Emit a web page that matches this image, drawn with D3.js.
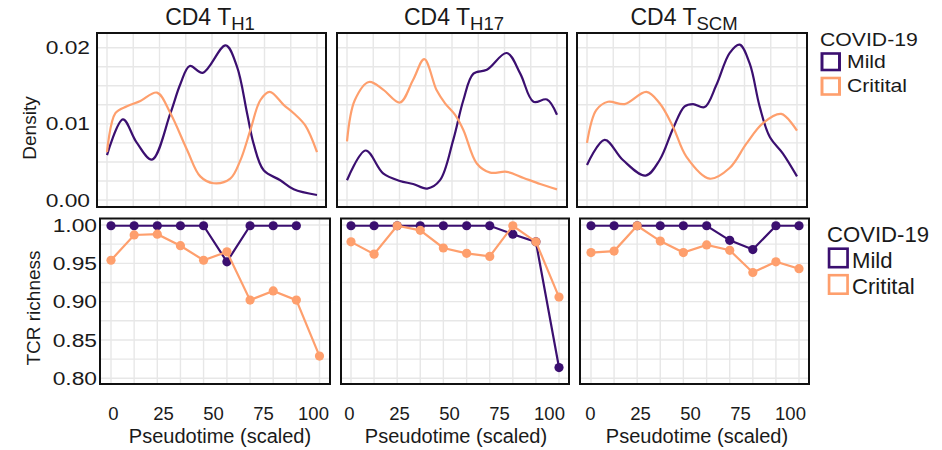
<!DOCTYPE html>
<html><head><meta charset="utf-8">
<script src="https://cdn.jsdelivr.net/npm/d3@7"></script>
<style>
body{margin:0;background:#fff;}
svg{display:block;font-family:"Liberation Sans",Arial,Helvetica,sans-serif;}
</style>
</head><body>
<svg id="chart" width="942" height="450"></svg>
<script>
// ---------------- DATA ----------------
const subsets = ["H1", "H17", "SCM"];
const groups = ["Mild", "Critital"];
const groupColors = ["#3B0F70", "#FE9F6D"];

// Density curves (pseudotime, density)
const th1MildX  = [0, 7.6, 14, 21.4, 30.2, 34.9, 39.4, 45.6, 56.5, 61.9, 66.7, 69.8, 74.6, 82.5, 88.9, 100];
const th1MildY  = [0.0059, 0.0106, 0.0076, 0.0053, 0.0114, 0.0152, 0.0176, 0.0167, 0.0203, 0.0175, 0.0114, 0.0074, 0.0039, 0.0026, 0.0014, 0.00066];
const th1CritX  = [0, 4, 9.5, 15.9, 23.8, 30.2, 38.1, 44.4, 50.8, 58.7, 63.5, 68.3, 73, 77.5, 84.1, 88.9, 94.4, 100];
const th1CritY  = [0.0063, 0.0114, 0.0123, 0.0130, 0.0141, 0.0114, 0.0066, 0.0031, 0.0022, 0.0028, 0.0052, 0.0092, 0.0131, 0.0142, 0.0125, 0.0114, 0.0098, 0.0063];

const th17MildX = [0, 8.9, 17.2, 25.2, 31.5, 38.2, 44.3, 50.6, 55.4, 60.2, 66.6, 76.1, 82.5, 88.8, 95.2, 100];
const th17MildY = [0.0026, 0.0065, 0.0035, 0.0025, 0.0021, 0.0015, 0.0026, 0.0079, 0.0131, 0.0166, 0.0171, 0.0193, 0.0166, 0.0129, 0.0132, 0.0112];
const th17CritX = [0, 3.7, 10.5, 17.2, 25.2, 31.5, 36.8, 42.7, 46.7, 51.4, 55.4, 61.8, 68.2, 76.1, 84.1, 92, 100];
const th17CritY = [0.0077, 0.0131, 0.0155, 0.0145, 0.0128, 0.0158, 0.0185, 0.0144, 0.0127, 0.0112, 0.0092, 0.0048, 0.0036, 0.0037, 0.0029, 0.0021, 0.0014];

const tscmMildX = [0, 8.4, 17.1, 27.9, 34.6, 41, 46.5, 50.5, 56, 61.6, 67.9, 72.7, 77.5, 82.2, 87, 93.3, 100];
const tscmMildY = [0.0046, 0.0079, 0.00525, 0.0032, 0.00525, 0.0094, 0.0123, 0.0126, 0.0122, 0.0151, 0.0193, 0.0204, 0.0179, 0.0123, 0.0083, 0.0061, 0.0031];
const tscmCritX = [0, 4.4, 10, 17.9, 28.3, 34.6, 41, 47.3, 58.4, 67.9, 75.9, 83.8, 92.5, 100];
const tscmCritY = [0.0075, 0.0118, 0.0129, 0.0126, 0.0142, 0.0127, 0.0096, 0.0057, 0.0028, 0.0042, 0.0074, 0.0101, 0.0113, 0.0091];

// TCR richness per pseudotime bin
const pseudotimeBins = [0, 11.1, 22.2, 33.3, 44.4, 55.6, 66.7, 77.8, 88.9, 100];
const th1MildRich  = [0.999, 0.999, 0.999, 0.999, 0.999, 0.952, 0.999, 0.999, 0.999];
const th1CritRich  = [0.954, 0.987, 0.988, 0.973, 0.954, 0.965, 0.902, 0.914, 0.902, 0.829];
const th17MildRich = [0.999, 0.999, 0.999, 0.999, 0.999, 0.999, 0.999, 0.988, 0.978, 0.814];
const th17CritRich = [0.978, 0.962, 0.999, 0.993, 0.970, 0.963, 0.959, 0.999, 0.978, 0.906];
const tscmMildRich = [0.999, 0.999, 0.999, 0.999, 0.999, 0.999, 0.980, 0.968, 0.999, 0.999];
const tscmCritRich = [0.964, 0.966, 0.999, 0.979, 0.964, 0.974, 0.967, 0.938, 0.952, 0.943];

// Ticks / grid
const xTickLabels = [0, 25, 50, 75, 100];
const densityTicks = [0, 0.01, 0.02];
const densityGrid = [0, 0.0025, 0.005, 0.0075, 0.01, 0.0125, 0.015, 0.0175, 0.02];
const densityXGrid = [0, 12.5, 25, 37.5, 50, 62.5, 75, 87.5, 100];
const richTicks = [0.80, 0.85, 0.90, 0.95, 1.00];
const richGrid = [0.80, 0.825, 0.85, 0.875, 0.90, 0.925, 0.95, 0.975, 1.00];

// ---------------- LAYOUT ----------------
const densityCurves = [
  [[th1MildX, th1MildY], [th1CritX, th1CritY]],
  [[th17MildX, th17MildY], [th17CritX, th17CritY]],
  [[tscmMildX, tscmMildY], [tscmCritX, tscmCritY]]
];
const richSeries = [
  [th1MildRich, th1CritRich],
  [th17MildRich, th17CritRich],
  [tscmMildRich, tscmCritRich]
];

const topBoxes = [{l:97, r:326}, {l:337, r:567}, {l:577, r:807}];
const topData  = [[107, 317], [347, 557], [587, 797]];
const topY0 = 33, topY1 = 207;
const botBoxes = [{l:100, r:330}, {l:341, r:569}, {l:580, r:809}];
const botData  = [[111, 319.5], [351, 559], [591, 799]];
const botLabelRange = [[113, 313], [349, 549], [590, 790]];
const botY0 = 218.5, botY1 = 384;
const titleCenters = [210, 454, 684];

const svg = d3.select("#chart");
const yDen = d3.scaleLinear().domain([0, 0.02]).range([200, 47.7]);
const yRich = d3.scaleLinear().domain([0.80, 1.00]).range([378.3, 225]);

const gridColor = "#e7e7e7";
const textColor = "#1a1a1a";

// ---- top density panels
topBoxes.forEach((b, i) => {
  const x = d3.scaleLinear().domain([0, 100]).range(topData[i]);
  const g = svg.append("g");
  g.selectAll(".hg").data(densityGrid).join("line")
    .attr("x1", b.l).attr("x2", b.r)
    .attr("y1", d => yDen(d)).attr("y2", d => yDen(d))
    .attr("stroke", gridColor).attr("stroke-width", 1.4);
  g.selectAll(".vg").data(densityXGrid).join("line")
    .attr("x1", d => x(d)).attr("x2", d => x(d))
    .attr("y1", topY0).attr("y2", topY1)
    .attr("stroke", gridColor).attr("stroke-width", 1.4);
  densityCurves[i].forEach((c, k) => {
    const pts = c[0].map((v, j) => [v, c[1][j]]);
    g.append("path").datum(pts)
      .attr("fill", "none")
      .attr("stroke", groupColors[k])
      .attr("stroke-width", 2.2)
      .attr("stroke-linejoin", "round")
      .attr("d", d3.line().x(d => x(d[0])).y(d => yDen(d[1])).curve(d3.curveCatmullRom.alpha(0.5)));
  });
  g.append("rect").attr("x", b.l).attr("y", topY0)
    .attr("width", b.r - b.l).attr("height", topY1 - topY0)
    .attr("fill", "none").attr("stroke", "#111").attr("stroke-width", 2);

  // title with subscript
  const t = svg.append("text").attr("x", titleCenters[i]).attr("y", 25)
    .attr("text-anchor", "middle").attr("fill", textColor).style("font-size", "23px");
  t.append("tspan").text("CD4 T");
  t.append("tspan").text(subsets[i]).attr("dy", 4.5).style("font-size", "18.5px");
});

// top y axis
const denAxis = svg.append("g").attr("transform", `translate(90,0)`)
  .call(d3.axisLeft(yDen).tickValues(densityTicks).tickFormat(d3.format(".2f")).tickSize(0).tickPadding(0));
denAxis.select(".domain").remove();
denAxis.selectAll("text").attr("fill", textColor).style("font-size", "19px")
  .attr("transform", "scale(1.2,1)");

// ---- bottom richness panels
botBoxes.forEach((b, i) => {
  const x = d3.scaleLinear().domain([0, 100]).range(botData[i]);
  const g = svg.append("g");
  g.selectAll(".hg").data(richGrid).join("line")
    .attr("x1", b.l).attr("x2", b.r)
    .attr("y1", d => yRich(d)).attr("y2", d => yRich(d))
    .attr("stroke", gridColor).attr("stroke-width", 1.4);
  g.selectAll(".vg").data(pseudotimeBins).join("line")
    .attr("x1", d => x(d)).attr("x2", d => x(d))
    .attr("y1", botY0).attr("y2", botY1)
    .attr("stroke", gridColor).attr("stroke-width", 1.4);
  richSeries[i].forEach((vals, k) => {
    const pts = vals.map((v, j) => [pseudotimeBins[j], v]);
    g.append("path").datum(pts)
      .attr("fill", "none").attr("stroke", groupColors[k]).attr("stroke-width", 2.2)
      .attr("d", d3.line().x(d => x(d[0])).y(d => yRich(d[1])));
    g.selectAll(".pt" + k).data(pts).join("circle")
      .attr("cx", d => x(d[0])).attr("cy", d => yRich(d[1])).attr("r", 4.6)
      .attr("fill", groupColors[k]);
  });
  g.append("rect").attr("x", b.l).attr("y", botY0)
    .attr("width", b.r - b.l).attr("height", botY1 - botY0)
    .attr("fill", "none").attr("stroke", "#111").attr("stroke-width", 2);

  // x axis labels
  const xl = d3.scaleLinear().domain([0, 100]).range(botLabelRange[i]);
  const ax = svg.append("g").attr("transform", `translate(0,407)`)
    .call(d3.axisBottom(xl).tickValues(xTickLabels).tickSize(0).tickPadding(0));
  ax.select(".domain").remove();
  ax.selectAll("text").attr("fill", textColor).style("font-size", "18.5px").attr("dy", "0.71em");

  svg.append("text")
    .attr("x", (botLabelRange[i][0] + botLabelRange[i][1]) / 2 + 7).attr("y", 442.5)
    .attr("text-anchor", "middle").attr("fill", textColor).style("font-size", "20px")
    .text("Pseudotime (scaled)");
});

const richAxis = svg.append("g").attr("transform", `translate(97,0)`)
  .call(d3.axisLeft(yRich).tickValues(richTicks).tickFormat(d3.format(".2f")).tickSize(0).tickPadding(0));
richAxis.select(".domain").remove();
richAxis.selectAll("text").attr("fill", textColor).style("font-size", "19px")
  .attr("transform", "scale(1.2,1)");

// y axis titles
svg.append("text").attr("transform", "translate(36,128) rotate(-90)")
  .attr("text-anchor", "middle").attr("fill", textColor).style("font-size", "19px").text("Density");
svg.append("text").attr("transform", "translate(40,308) rotate(-90)")
  .attr("text-anchor", "middle").attr("fill", textColor).style("font-size", "19px").text("TCR richness");

// ---- legends
function legend(opt) {
  const g = svg.append("g").attr("transform", `translate(${opt.x},${opt.y}) scale(${opt.sx},1)`);
  g.append("text").attr("x", 0).attr("y", 0).attr("fill", textColor)
    .style("font-size", opt.fs + "px").text("COVID-19");
  groups.forEach((name, k) => {
    g.append("rect").attr("x", opt.bx).attr("y", opt.by + k * opt.step)
      .attr("width", opt.bw / opt.sx).attr("height", opt.bh)
      .attr("fill", "#fff").attr("stroke", groupColors[k]).attr("stroke-width", 2.6);
    g.append("text").attr("x", opt.tx).attr("y", opt.ty + k * opt.step)
      .attr("fill", textColor).style("font-size", opt.fs + "px").text(name);
  });
}
legend({x: 820, y: 46, sx: 1.14, fs: 18.6, bx: 2 / 1.14, by: 7.5, bw: 17.5, bh: 16.5, step: 24.5, tx: 27 / 1.14, ty: 22});
legend({x: 827, y: 241.7, sx: 1.03, fs: 21.5, bx: 2, by: 7, bw: 18.5, bh: 18.5, step: 26.5, tx: 25 / 1.03, ty: 26.3});
</script>
</body></html>
